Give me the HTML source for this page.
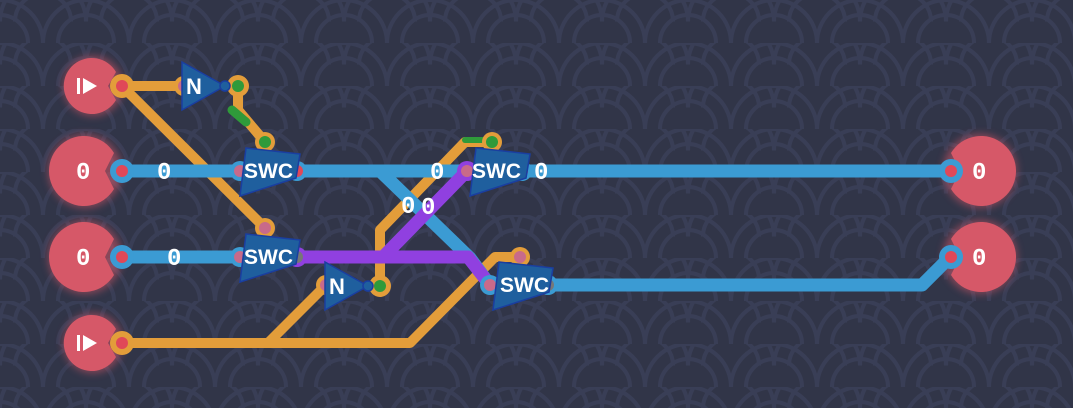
<!DOCTYPE html>
<html><head><meta charset="utf-8"><style>
html,body{margin:0;padding:0;background:#313548;}
svg{display:block}
text{font-family:"Liberation Mono","DejaVu Sans Mono",monospace;font-weight:bold;fill:#fff}
.sans{font-family:"Liberation Sans","DejaVu Sans",sans-serif}
</style></head><body>
<svg width="1073" height="408" viewBox="0 0 1073 408" xmlns="http://www.w3.org/2000/svg">
<defs>
<pattern id="wv" width="86" height="43" patternUnits="userSpaceOnUse">
<g fill="none" stroke="#393e56" stroke-width="4">
<path d="M-43 43 A43 43 0 0 1 43 43 M43 43 A43 43 0 0 1 129 43"/>
<path d="M-28 43 A28 28 0 0 1 28 43 M58 43 A28 28 0 0 1 114 43"/>
<path d="M0 21.5 A43 43 0 0 1 86 21.5"/>
<path d="M15 21.5 A28 28 0 0 1 71 21.5"/>
</g>
</pattern>
<filter id="glow" x="-50%" y="-50%" width="200%" height="200%"><feGaussianBlur stdDeviation="4"/></filter>
</defs>
<rect width="1073" height="408" fill="#313548"/>
<rect width="1073" height="408" fill="url(#wv)"/>

<g fill="#e05a6a" opacity="0.5" filter="url(#glow)">
<circle cx="93" cy="86" r="30"/><circle cx="85" cy="171" r="37"/><circle cx="85" cy="257" r="37"/><circle cx="93" cy="343" r="30"/>
<circle cx="980" cy="171" r="37"/><circle cx="980" cy="257" r="37"/>
</g>
<g fill="#d65868">
<path d="M116 72 A28 28 0 1 0 116 100 L108 86 Z"/>
<path d="M114 153 A35 35 0 1 0 114 189 L105 171 Z"/>
<path d="M114 239 A35 35 0 1 0 114 275 L105 257 Z"/>
<path d="M116 329 A28 28 0 1 0 116 357 L108 343 Z"/>
<path d="M951 153 A35 35 0 1 1 951 189 L960 171 Z"/>
<path d="M951 239 A35 35 0 1 1 951 275 L960 257 Z"/>
</g>

<g fill="none" stroke-linecap="round" stroke-linejoin="round">
<g stroke="#e39d3a" stroke-width="10">
<path d="M122 86 H182"/>
<path d="M122 86 L265 228"/>
<path d="M238 95 L238 110 L265 142"/>
<path d="M122 343 H410 L495 257 H520"/>
<path d="M268 343 L326 285"/>
<path d="M380 286 L380 230 L465 142 H492"/>
</g>
<path d="M232 110 L246 122" stroke="#2f9a3a" stroke-width="9"/>
<path d="M465 140 H488" stroke="#2f9a3a" stroke-width="6"/>
<g stroke="#3b9bd3" stroke-width="13">
<path d="M122 171 H240"/>
<path d="M297 171 H470"/>
<path d="M380 171 L470 258 L490 285"/>
<path d="M522 171 H950"/>
<path d="M122 257 H240"/>
<path d="M548 285 H922 L950 257"/>
</g>
<g stroke="#9040e0" stroke-width="13">
<path d="M297 257 H468 L490 285"/>
<path d="M383 257 L467 171"/>
</g>
</g>

<g>
<g fill="#e39d3a"><circle cx="122" cy="86" r="12"/><circle cx="122" cy="343" r="12"/><circle cx="238" cy="86" r="11"/><circle cx="265" cy="142" r="10"/><circle cx="265" cy="228" r="10"/><circle cx="380" cy="286" r="11"/><circle cx="326" cy="285" r="10"/><circle cx="184" cy="86" r="10"/><circle cx="492" cy="142" r="10"/><circle cx="520" cy="257" r="10"/></g>
<g fill="#3b9bd3"><circle cx="122" cy="171" r="12"/><circle cx="122" cy="257" r="12"/><circle cx="951" cy="171" r="12"/><circle cx="951" cy="257" r="12"/><circle cx="240" cy="171" r="10"/><circle cx="240" cy="257" r="10"/><circle cx="297" cy="171" r="10"/><circle cx="522" cy="171" r="10"/><circle cx="548" cy="285" r="10"/><circle cx="490" cy="285" r="10"/></g>
<g fill="#9040e0"><circle cx="297" cy="257" r="10"/><circle cx="467" cy="171" r="10"/></g>
<g fill="#e04858"><circle cx="122" cy="86" r="6"/><circle cx="122" cy="171" r="6"/><circle cx="122" cy="257" r="6"/><circle cx="122" cy="343" r="6"/><circle cx="951" cy="171" r="6"/><circle cx="951" cy="257" r="6"/><circle cx="297" cy="171" r="6"/><circle cx="522" cy="171" r="6"/></g>
<g fill="#c86a8a"><circle cx="184" cy="86" r="6"/><circle cx="240" cy="171" r="6"/><circle cx="240" cy="257" r="6"/><circle cx="326" cy="285" r="6"/><circle cx="467" cy="171" r="6"/><circle cx="490" cy="285" r="6"/><circle cx="265" cy="228" r="6"/><circle cx="520" cy="257" r="6"/></g>
<g fill="#2f9a3a"><circle cx="238" cy="86" r="6"/><circle cx="265" cy="142" r="6"/><circle cx="380" cy="286" r="6"/><circle cx="492" cy="142" r="6"/></g>
<g fill="#777"><circle cx="297" cy="257" r="6"/><circle cx="548" cy="285" r="6"/></g>
</g>

<g fill="#1f5f9e" stroke="#1a3ea0" stroke-width="1.5">
<path d="M182 62 L225 86 L182 110 Z"/><circle cx="225" cy="86" r="5"/>
<path d="M325 262 L368 286 L325 310 Z"/><circle cx="368" cy="286" r="5"/>
<path d="M246 148 L300 154 L296 178 L240 196 Z"/>
<path d="M246 234 L300 240 L296 264 L240 282 Z"/>
<path d="M476 148 L530 154 L526 178 L470 196 Z"/>
<path d="M499 262 L553 268 L549 292 L493 310 Z"/>
</g>
<g>
<text class="sans" font-size="22" x="186" y="94">N</text>
<text class="sans" font-size="22" x="329" y="294">N</text>
<text class="sans" font-size="21" x="244" y="178">SWC</text>
<text class="sans" font-size="21" x="244" y="264">SWC</text>
<text class="sans" font-size="21" x="472" y="178">SWC</text>
<text class="sans" font-size="21" x="500" y="292">SWC</text>
</g>

<g font-size="24">
<text x="76" y="179">0</text><text x="76" y="265">0</text>
<text x="972" y="179">0</text><text x="972" y="265">0</text>
<text x="157" y="179">0</text><text x="167" y="265">0</text>
<text x="430" y="179">0</text><text x="534" y="179">0</text>
<text x="401" y="213">0</text><text x="421" y="214">0</text>
</g>
<g fill="#fff">
<rect x="77" y="78" width="3" height="16"/><path d="M83 78 L97 86 L83 94 Z"/>
<rect x="77" y="335" width="3" height="16"/><path d="M83 335 L97 343 L83 351 Z"/>
</g>
</svg>
</body></html>
